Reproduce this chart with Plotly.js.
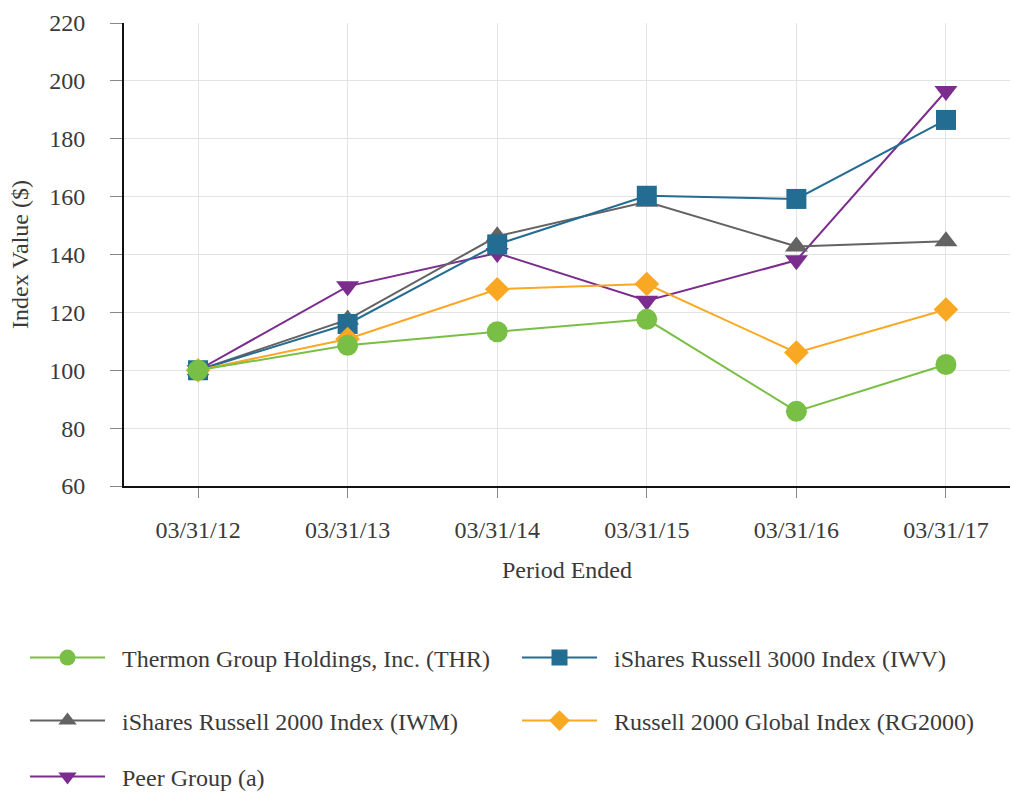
<!DOCTYPE html>
<html>
<head>
<meta charset="utf-8">
<script src="https://cdn.plot.ly/plotly-3.0.1.min.js"></script>
<style>html,body{margin:0;padding:0;background:#fff;}#chart{width:1012px;height:793px;}</style>
</head>
<body>
<div id="chart"></div>
<script>
var periods = ["03/31/12", "03/31/13", "03/31/14", "03/31/15", "03/31/16", "03/31/17"];
var thr = [100, 108.6, 113.3, 117.6, 85.8, 102.0];
var iwv = [100, 116.0, 143.5, 160.3, 159.2, 186.5];
var iwm = [100, 117.5, 146.3, 158.2, 142.8, 144.6];
var rg2000 = [100, 110.8, 128.0, 129.8, 106.1, 121.0];
var peer = [100, 129.0, 140.5, 124.0, 138.0, 196.5];
var names = ["Thermon Group Holdings, Inc. (THR)", "iShares Russell 3000 Index (IWV)", "iShares Russell 2000 Index (IWM)", "Russell 2000 Global Index (RG2000)", "Peer Group (a)"];
var yTicks = [60, 80, 100, 120, 140, 160, 180, 200, 220];

var FONT = "'Liberation Serif', 'Times New Roman', serif";
var FS = 24;
var TXT = "#3a3a3a";
function tr(y, name, color, symbol, size, leg) {
  return {x: periods, y: y, name: "\u00a0\u00a0" + name, type: "scatter", mode: "lines+markers",
    line: {color: color, width: 2},
    marker: {color: color, symbol: symbol, size: size, line: {width: 0}},
    legend: leg};
}
var data = [
  tr(peer, names[4], "#7b2d8e", "triangle-down", 20, "legend5"),
  tr(iwm, names[2], "#636363", "triangle-up", 20, "legend3"),
  tr(iwv, names[1], "#236c92", "square", 20, "legend2"),
  tr(rg2000, names[3], "#f8a823", "diamond", 19, "legend4"),
  tr(thr, names[0], "#79bf45", "circle", 21, "legend")
];
function leg(x, y) {
  return {x: x, y: y, xref: "container", yref: "container", xanchor: "left", yanchor: "middle",
    orientation: "h", itemwidth: 75, font: {family: FONT, size: FS, color: TXT}, bgcolor: "rgba(0,0,0,0)"};
}
var layout = {
  width: 1012, height: 793,
  margin: {l: 124, r: 2, t: 23, b: 307},
  paper_bgcolor: "#fff", plot_bgcolor: "#fff",
  font: {family: FONT, size: FS, color: TXT},
  xaxis: {type: "category", range: [-0.495, 5.428], showgrid: true, gridcolor: "#e3e3e3", gridwidth: 1,
    showline: true, linecolor: "#111", linewidth: 2, ticks: "outside", ticklen: 10, tickcolor: "#888",
    ticklabelstandoff: 11, zeroline: false,
    title: {text: "Period Ended", standoff: 19, font: {family: FONT, size: FS, color: TXT}}},
  yaxis: {range: [60, 220], tickvals: yTicks, showgrid: true, gridcolor: "#e3e3e3", gridwidth: 1,
    showline: true, linecolor: "#111", linewidth: 2, ticks: "outside", ticklen: 12, tickcolor: "#888",
    ticklabelstandoff: 20, zeroline: false,
    title: {text: "Index Value ($)", standoff: 14, font: {family: FONT, size: FS, color: TXT}}},
  legend: leg(25/1012, 1 - 658/793),
  legend2: leg(517/1012, 1 - 658/793),
  legend3: leg(25/1012, 1 - 721/793),
  legend4: leg(517/1012, 1 - 721/793),
  legend5: leg(25/1012, 1 - 777/793),
  showlegend: true
};
Plotly.newPlot("chart", data, layout, {displayModeBar: false, staticPlot: true});
</script>
</body>
</html>
